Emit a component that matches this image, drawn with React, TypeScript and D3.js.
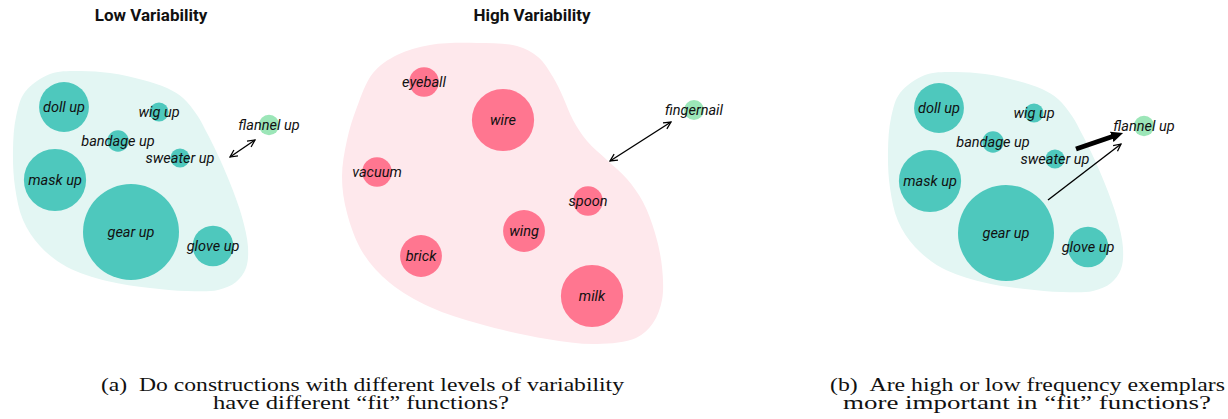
import React from "react";
import * as d3 from "d3";

// ---- Data ----
const lowNames = ["doll up", "wig up", "bandage up", "sweater up", "mask up", "gear up", "glove up"];
const lowX = [64, 159, 118, 180, 55, 131, 213];
const lowY = [107, 112, 141, 158, 180, 232, 246];
const lowFreq = [27, 4, 5, 4, 42, 100, 18];

const highNames = ["eyeball", "wire", "vacuum", "spoon", "wing", "brick", "milk"];
const highX = [424, 503, 377, 588, 524, 421, 592];
const highY = [82, 120, 172, 201, 231, 256, 296];
const highFreq = [9.5, 42, 9.5, 9.5, 19, 19, 42];

const lowTarget = { name: "flannel up", x: 269, y: 125, freq: 4.5 };
const highTarget = { name: "fingernail", x: 694, y: 110, freq: 4.3 };

const lowBlob: [number, number][] = [
  [50, 74], [77, 71], [110, 73], [143, 80], [167, 88], [183, 98], [197, 115], [207, 133],
  [217, 153], [230, 183], [242, 217], [248, 247], [246, 268], [236, 282], [218, 290],
  [187, 291], [150, 288], [107, 281], [67, 267], [40, 246], [23, 220], [15, 187],
  [13, 150], [16, 117], [25, 92],
];
const highBlob: [number, number][] = [
  [477, 43], [517, 46], [538, 57], [553, 77], [563, 97], [573, 120], [587, 141], [607, 160],
  [627, 179], [643, 202], [655, 233], [662, 267], [662, 300], [653, 323], [636, 338],
  [597, 344], [547, 339], [480, 324], [430, 307], [390, 283], [363, 253], [347, 213],
  [342, 177], [347, 140], [357, 107], [373, 73], [397, 55], [430, 45],
];

const panelBOffset = [875, 1];

const titles = ["Low Variability", "High Variability"];
const titleX = [151, 532];

const captionA = ["(a)\u00A0\u00A0Do constructions with different levels of variability", "have different \u201Cfit\u201D functions?"];
const captionB = ["(b)\u00A0\u00A0Are high or low frequency exemplars", "more important in \u201Cfit\u201D functions?"];
const captionAX = [101, 213];
const captionAW = [523, 296];
const captionBX = [830, 843];
const captionBW = [395, 368];
const captionY = [391, 409];

// arrows: [x1,y1,x2,y2]
const doubleArrows = [
  [230, 157, 255, 140],
  [610, 161, 671, 122],
];
const thinArrow = [1048, 200, 1121, 144];
const thickArrow = [1076, 149, 1114, 136];

const TEAL = "#4ec8bd";
const TEAL_BG = "#e3f6f3";
const PINK = "#ff7690";
const PINK_BG = "#fee8ec";
const LIGHT_GREEN = "#9ce6b8";

const rScale = d3.scaleSqrt().domain([0, 100]).range([0, 48]);
const blobLine = d3.line<[number, number]>().curve(d3.curveCatmullRomClosed.alpha(0.5));

const labelStyle: React.CSSProperties = {
  fontFamily: "Roboto, 'Noto Sans', sans-serif",
  fontStyle: "italic",
  fontSize: 14.5,
  fill: "#111",
};

function Bubble({ x, y, r, fill, label }: { x: number; y: number; r: number; fill: string; label: string }) {
  return (
    <g>
      <circle cx={x} cy={y} r={r} fill={fill} />
      <text x={x} y={y} dy="0.35em" textAnchor="middle" style={labelStyle}>
        {label}
      </text>
    </g>
  );
}

function LowPanel() {
  return (
    <g>
      <path d={blobLine(lowBlob) || ""} fill={TEAL_BG} />
      {lowNames.map((n, i) => (
        <Bubble key={n} x={lowX[i]} y={lowY[i]} r={rScale(lowFreq[i])} fill={TEAL} label={n} />
      ))}
      <Bubble x={lowTarget.x} y={lowTarget.y} r={rScale(lowTarget.freq)} fill={LIGHT_GREEN} label={lowTarget.name} />
    </g>
  );
}

export default function App() {
  const capStyle: React.CSSProperties = {
    fontFamily: "Liberation Serif, Tinos, Times, serif",
    fontSize: 18,
    fill: "#111",
  };
  return (
    <svg
      width={1228}
      height={419}
      style={{ position: "absolute", left: 0, top: 0, background: "#fff" }}
    >
      <defs>
        <marker id="openHead" viewBox="0 0 10 10" refX="9" refY="5" markerWidth="9" markerHeight="9"
          markerUnits="userSpaceOnUse" orient="auto-start-reverse">
          <path d="M1,1 L9,5 L1,9" fill="none" stroke="#000" strokeWidth={1.4} />
        </marker>
        <marker id="solidHead" viewBox="0 0 10 10" refX="2" refY="5" markerWidth="12" markerHeight="12"
          markerUnits="userSpaceOnUse" orient="auto">
          <path d="M0,0.5 L10,5 L0,9.5 Z" fill="#000" />
        </marker>
      </defs>

      {/* Titles */}
      {titles.map((t, i) => (
        <text key={t} x={titleX[i]} y={21} textAnchor="middle"
          style={{ fontFamily: "Roboto, sans-serif", fontWeight: 700, fontSize: 17, fill: "#111" }}>
          {t}
        </text>
      ))}

      {/* Panel a - low */}
      <LowPanel />
      {/* Panel a - high */}
      <g>
        <path d={blobLine(highBlob) || ""} fill={PINK_BG} />
        {highNames.map((n, i) => (
          <Bubble key={n} x={highX[i]} y={highY[i]} r={rScale(highFreq[i])} fill={PINK} label={n} />
        ))}
        <Bubble x={highTarget.x} y={highTarget.y} r={rScale(highTarget.freq)} fill={LIGHT_GREEN} label={highTarget.name} />
      </g>

      {doubleArrows.map((a, i) => (
        <line key={i} x1={a[0]} y1={a[1]} x2={a[2]} y2={a[3]} stroke="#000" strokeWidth={1.4}
          markerStart="url(#openHead)" markerEnd="url(#openHead)" />
      ))}

      {/* Panel b */}
      <g transform={`translate(${panelBOffset[0]},${panelBOffset[1]})`}>
        <LowPanel />
      </g>
      <line x1={thinArrow[0]} y1={thinArrow[1]} x2={thinArrow[2]} y2={thinArrow[3]} stroke="#000"
        strokeWidth={1.4} markerEnd="url(#openHead)" />
      <line x1={thickArrow[0]} y1={thickArrow[1]} x2={thickArrow[2]} y2={thickArrow[3]} stroke="#000"
        strokeWidth={5} markerEnd="url(#solidHead)" />

      {/* Captions */}
      {captionA.map((c, i) => (
        <text key={c} x={captionAX[i]} y={captionY[i]} textLength={captionAW[i]} lengthAdjust="spacingAndGlyphs"
          style={capStyle}>
          {c}
        </text>
      ))}
      {captionB.map((c, i) => (
        <text key={c} x={captionBX[i]} y={captionY[i]} textLength={captionBW[i]} lengthAdjust="spacingAndGlyphs"
          style={capStyle}>
          {c}
        </text>
      ))}
    </svg>
  );
}
